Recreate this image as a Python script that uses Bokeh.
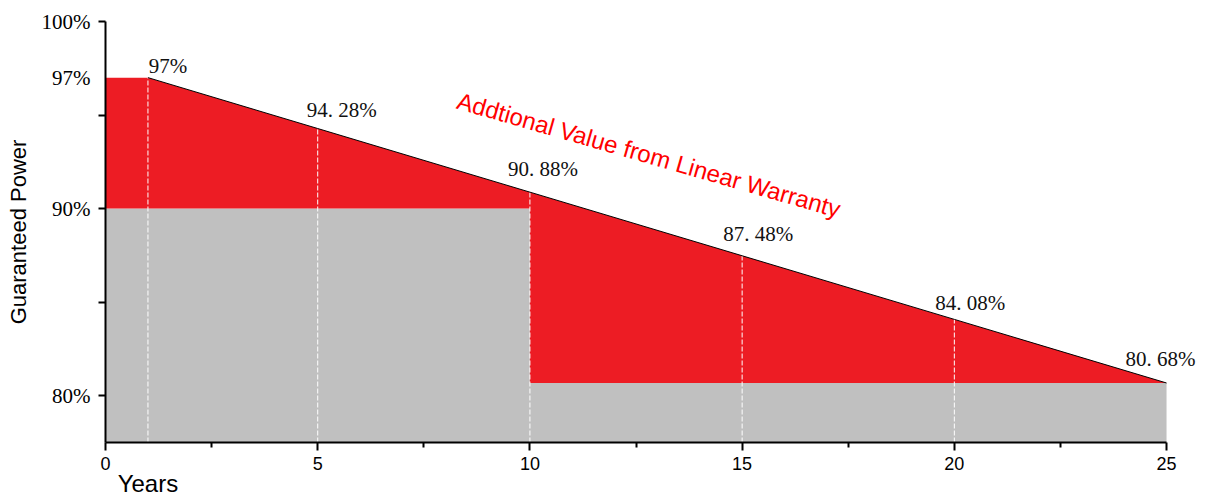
import math
import numpy as np
from bokeh.plotting import figure
from bokeh.models import (Range1d, FixedTicker, Label, ColumnDataSource,
                          PrintfTickFormatter, LinearAxis)
from bokeh.core.properties import value
from bokeh.embed import file_html
from bokeh.resources import INLINE

# ---- data ----
years = [0, 1, 5, 10, 15, 20, 25]
power = [97, 97, 94.28, 90.88, 87.48, 84.08, 80.68]
marked_years = [1, 5, 10, 15, 20, 25]
step_years = [0, 10, 25]
step_power = [90, 80.68]
x_ticks = [0, 5, 10, 15, 20, 25]
x_minor_ticks = [2.5, 7.5, 12.5, 17.5, 22.5]
y_labelled = [80, 90, 97, 100]
y_tick_marks = [80, 85, 90, 95, 100]
x_title = "Years"
y_title = "Guaranteed Power"
note = "Addtional Value from Linear Warranty"
y_bottom = 77.5
y_top = 100
x_end = 25.8

RED = "#ED1C24"
GRAY = "#C0C0C0"

p = figure(width=1206, height=500,
           x_range=Range1d(0, x_end), y_range=Range1d(y_bottom, y_top),
           output_backend="svg", toolbar_location=None,
           min_border_left=105, min_border_right=6,
           min_border_top=21, min_border_bottom=58)
p.outline_line_color = None
p.xgrid.visible = False
p.ygrid.visible = False
p.background_fill_color = "white"

# gray guaranteed step area
gx, gy = [], []
for i, v in enumerate(step_power):
    gx += [step_years[i], step_years[i + 1]]
    gy += [v, v]
p.varea(x=gx, y1=[y_bottom] * len(gx), y2=gy, fill_color=GRAY)

# red additional area
rx, rb, rt = [], [], []
for i, v in enumerate(step_power):
    xs = [y for y in years if step_years[i] <= y <= step_years[i + 1]]
    rx += xs
    rb += [v] * len(xs)
    rt += list(np.interp(xs, years, power))
p.varea(x=rx, y1=rb, y2=rt, fill_color=RED)

# dashed verticals
dash_x = [y for y in marked_years if y < 25]
dash_top = list(np.interp(dash_x, years, power))
p.segment(x0=dash_x, y0=[y_bottom] * len(dash_x), x1=dash_x, y1=dash_top,
          line_color="white", line_dash="5 2", line_width=1)

# linear warranty line
p.line(x=years[1:], y=power[1:], line_color="black", line_width=1)

# data labels
lab_vals = list(np.interp(marked_years, years, power))
lab_text = []
for v in lab_vals:
    if abs(v - round(v)) < 1e-9:
        lab_text.append(f"{int(round(v))}%")
    else:
        lab_text.append(f"{v:.2f}%".replace(".", ". "))
src = ColumnDataSource(dict(x=marked_years, y=lab_vals, t=lab_text,
                            dx=[20, 24, 13, 16, 16, -6],
                            dy=[-12, -19, -23, -22, -16, -24]))
p.text(x="x", y="y", text="t", source=src, x_offset="dx", y_offset="dy",
       text_align="center", text_baseline="alphabetic",
       text_font=value("Liberation Serif"), text_font_size="21px",
       text_color="#111111")

# axes
for ax in (p.xaxis[0], p.yaxis[0]):
    ax.axis_line_color = "black"
    ax.axis_line_width = 2
    ax.major_tick_line_color = "black"
    ax.major_tick_line_width = 2
    ax.minor_tick_line_color = "black"
    ax.minor_tick_line_width = 2
    ax.major_tick_in = 0
    ax.minor_tick_in = 0
    ax.major_label_text_color = "black"
    ax.axis_label_text_color = "black"
    ax.axis_label_text_font_style = "normal"

xa = p.xaxis[0]
xa.bounds = (0, 25)
xa.ticker = FixedTicker(ticks=x_ticks, minor_ticks=x_minor_ticks)
xa.major_tick_out = 8
xa.minor_tick_out = 5
xa.major_label_text_font = "Liberation Sans"
xa.major_label_text_font_size = "18px"
xa.major_label_standoff = 6

# "Years" title, set under the first year tick as a second, line-less axis
xt = LinearAxis(ticker=FixedTicker(ticks=[1]),
                major_label_overrides={1: x_title},
                axis_line_color=None, major_tick_line_color=None,
                minor_tick_line_color=None, major_tick_out=0, minor_tick_out=0,
                major_label_standoff=-3,
                major_label_text_font="Liberation Sans",
                major_label_text_font_size="24px",
                major_label_text_color="black")
p.add_layout(xt, "below")

ya = p.yaxis[0]
ya.ticker = FixedTicker(ticks=y_labelled, minor_ticks=y_tick_marks)
ya.formatter = PrintfTickFormatter(format="%d%%")
ya.major_tick_out = 0
ya.minor_tick_out = 7
ya.major_label_text_font = "Liberation Serif"
ya.major_label_text_font_size = "21px"
ya.major_label_standoff = 8
ya.axis_label = y_title
ya.axis_label_text_font = "Liberation Sans"
ya.axis_label_text_font_size = "22px"
ya.axis_label_standoff = 8

# annotation
p.add_layout(Label(x=8.3, y=95.8, text=note,
                   angle=-16 * math.pi / 180,
                   text_align="left", text_baseline="alphabetic",
                   text_font="Liberation Sans", text_font_size="24px",
                   text_color="#FF0000"))

open("out.html", "w").write(file_html(p, INLINE))
